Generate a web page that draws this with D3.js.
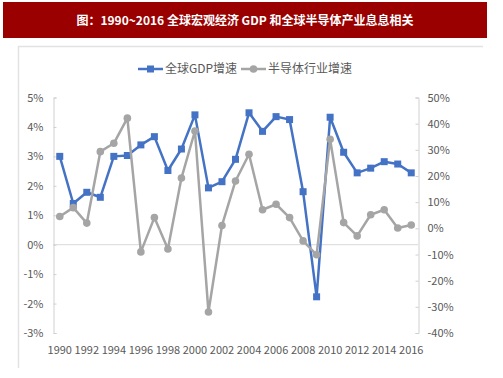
<!DOCTYPE html>
<html><head><meta charset="utf-8">
<script src="https://cdn.jsdelivr.net/npm/d3@7/dist/d3.min.js"></script>
<style>body{margin:0;background:#fff}svg{display:block}</style>
</head><body>
<script>
const titleText = "图：1990~2016 全球宏观经济 GDP 和全球半导体产业息息相关";
const seriesNames = ["全球GDP增速", "半导体行业增速"];
const years = d3.range(1990, 2017);
const gdpGrowth = [3.0, 1.4, 1.78, 1.61, 3.0, 3.03, 3.39, 3.67, 2.52, 3.25, 4.41, 1.93, 2.14, 2.9, 4.48, 3.85, 4.35, 4.25, 1.8, -1.77, 4.33, 3.14, 2.44, 2.6, 2.82, 2.74, 2.44];
const semiGrowth = [4.5, 7.9, 2.0, 29.3, 32.5, 42.1, -9.0, 4.1, -7.9, 19.2, 37.2, -32.0, 1.1, 18.1, 28.3, 7.1, 9.2, 4.1, -4.8, -10.1, 34.0, 2.2, -2.9, 5.2, 7.1, 0.1, 1.3];
const leftTicks = [-3, -2, -1, 0, 1, 2, 3, 4, 5];
const rightTicks = [-40, -30, -20, -10, 0, 10, 20, 30, 40, 50];
const xTickYears = d3.range(1990, 2017, 2);

const W = 503, H = 378;
const svg = d3.select("body").append("svg").attr("width", W).attr("height", H);
const font = "'Microsoft YaHei','Noto Sans CJK SC','DejaVu Sans',sans-serif";
const txtColor = "#595959";

// Banner
svg.append("rect").attr("x", 3).attr("y", 2).attr("width", 484).attr("height", 36).attr("fill", "#9A0000");
svg.append("text").attr("x", 245).attr("y", 24.5).attr("text-anchor", "middle")
  .attr("fill", "#fff").attr("font-family", font).attr("font-size", 12).attr("font-weight", "bold")
  .text(titleText);

// Chart frame (top and left lines)
svg.append("path").attr("d", "M18.5,368 V46.5 H483").attr("fill", "none").attr("stroke", "#e2e2e2").attr("stroke-width", 1.5);

// Scales
const x = d3.scaleBand().domain(years).range([53, 418]);
const xc = d => x(d) + x.bandwidth() / 2;
const yL = d3.scaleLinear().domain([-3, 5]).range([333, 97.5]);
const yR = d3.scaleLinear().domain([-40, 50]).range([333, 97.5]);

// Zero gridline
svg.append("line").attr("x1", 53).attr("x2", 418).attr("y1", yL(0)).attr("y2", yL(0))
  .attr("stroke", "#d9d9d9").attr("stroke-width", 1);

// Left axis
const gL = svg.append("g").attr("transform", "translate(53.5,0)")
  .call(d3.axisLeft(yL).tickValues(leftTicks).tickFormat(d => d + "%").tickSize(-3).tickPadding(8));
// Right axis
const gR = svg.append("g").attr("transform", "translate(418.5,0)")
  .call(d3.axisRight(yR).tickValues(rightTicks).tickFormat(d => d + "%").tickSize(-3).tickPadding(9));
[gL, gR].forEach(g => {
  g.select(".domain").attr("stroke", "#d0d0d0");
  g.selectAll(".tick line").attr("stroke", "#d0d0d0");
  g.selectAll("text").attr("fill", txtColor).attr("font-family", font).attr("font-size", 11);
});
gL.selectAll(".tick text").attr("x", -10);

// X axis labels
const gX = svg.append("g").attr("transform", "translate(0,341)")
  .call(d3.axisBottom(x).tickValues(xTickYears).tickSize(0).tickPadding(5));
gX.select(".domain").remove();
gX.selectAll("text").attr("fill", txtColor).attr("font-family", font).attr("font-size", 11);

// GDP line
const blue = "#4472C4", gray = "#A5A5A5";
const lineL = d3.line().x((d, i) => xc(years[i])).y(d => yL(d));
const lineR = d3.line().x((d, i) => xc(years[i])).y(d => yR(d));
svg.append("path").datum(gdpGrowth).attr("d", lineL).attr("fill", "none")
  .attr("stroke", blue).attr("stroke-width", 2.5).attr("stroke-linejoin", "round");
svg.append("g").selectAll("rect").data(gdpGrowth).join("rect")
  .attr("x", (d, i) => xc(years[i]) - 3.5).attr("y", d => yL(d) - 3.5)
  .attr("width", 7).attr("height", 7).attr("fill", blue);

// Semiconductor line
svg.append("path").datum(semiGrowth).attr("d", lineR).attr("fill", "none")
  .attr("stroke", gray).attr("stroke-width", 2.5).attr("stroke-linejoin", "round");
svg.append("g").selectAll("circle").data(semiGrowth).join("circle")
  .attr("cx", (d, i) => xc(years[i])).attr("cy", d => yR(d)).attr("r", 3.8).attr("fill", gray);

// Legend
const leg = svg.append("g");
const legItems = [{name: seriesNames[0], color: blue, x: 138, shape: "rect"}, {name: seriesNames[1], color: gray, x: 241, shape: "circle"}];
legItems.forEach(it => {
  leg.append("line").attr("x1", it.x).attr("x2", it.x + 25).attr("y1", 69).attr("y2", 69)
    .attr("stroke", it.color).attr("stroke-width", 2.5);
  if (it.shape === "rect") leg.append("rect").attr("x", it.x + 9).attr("y", 65.5).attr("width", 7).attr("height", 7).attr("fill", it.color);
  else leg.append("circle").attr("cx", it.x + 12.5).attr("cy", 69).attr("r", 3.8).attr("fill", it.color);
  leg.append("text").attr("x", it.x + 27).attr("y", 73).attr("fill", txtColor)
    .attr("font-family", font).attr("font-size", 12).text(it.name);
});
</script>
</body></html>
